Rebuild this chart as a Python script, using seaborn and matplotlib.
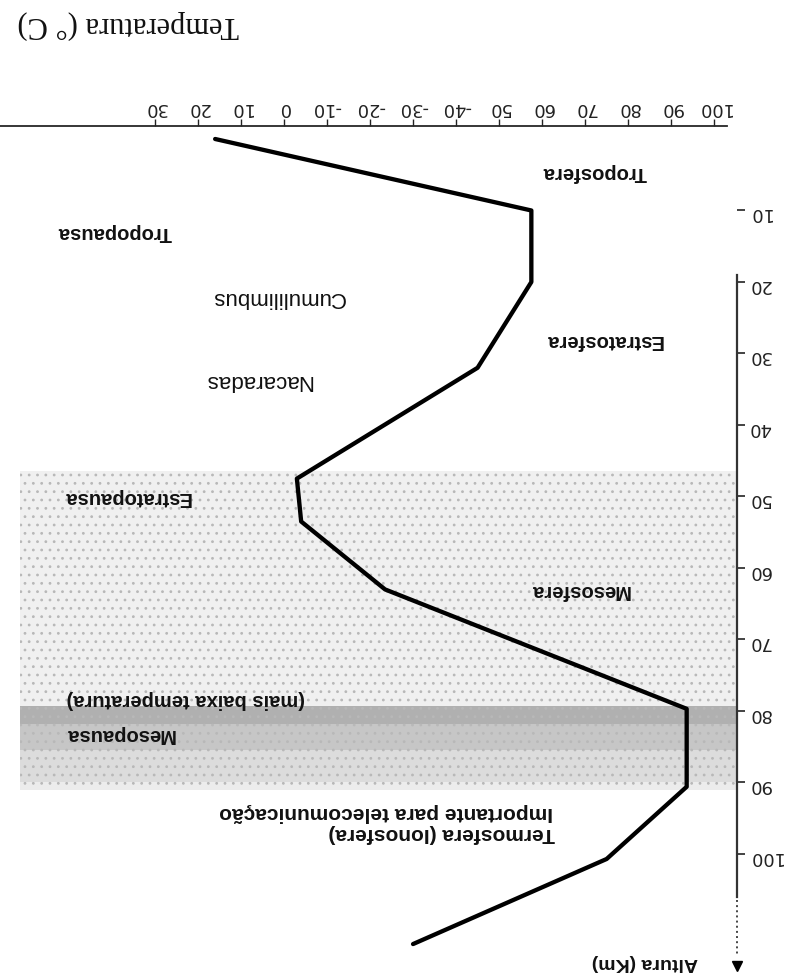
import matplotlib
matplotlib.use("Agg")
import matplotlib.pyplot as plt
import seaborn as sns
import pandas as pd

altitude_km = [0, 10, 20, 32, 47.5, 53.5, 63, 79.7, 90.6, 100.7, 112.6]
temperature_c = [16, -57.5, -57.5, -45, -3, -4, -23.5, -93.6, -93.6, -75, -30]

temp_ticks = [30, 20, 10, 0, -10, -20, -30, -40, -50, -60, -70, -80, -90, -100]
temp_tick_labels = ["30", "20", "10", "0", "-10", "-20", "-30", "-40",
                    "50", "60", "70", "80", "90", "100"]
alt_ticks = [10, 20, 30, 40, 50, 60, 70, 80, 90, 100]
alt_tick_labels = ["10", "20", "30", "40", "50", "60", "70", "80", "90", "100"]

bold_labels = ["Troposfera", "Estratosfera", "Tropopausa", "Estratopausa",
               "Mesosfera", "(mais baixa temperatura)", "Mesopausa"]
cloud_labels = ["Cumulilimbus", "Nacaradas"]
thermo_labels = ["Termosfera (Ionosfera)", "Importante para telecomunicação"]

df = pd.DataFrame({"Temperatura": temperature_c, "Altura": altitude_km})

sns.set_theme(style="ticks")
plt.rcParams["hatch.linewidth"] = 0.8

fig = plt.figure(figsize=(7.93, 9.79), dpi=100)
ax = fig.add_axes([0.0, 0.004, 0.9294, 0.8663])
ax.set_facecolor("white")

# shaded upper layers
ax.axhspan(79.3, 81.8, xmin=0.027, xmax=1, facecolor="#b0b0b0", lw=0, zorder=0)
ax.axhspan(81.8, 85.5, xmin=0.027, xmax=1, facecolor="#c6c6c6", lw=0, zorder=0)
ax.axhspan(85.5, 90.0, xmin=0.027, xmax=1, facecolor="#dcdcdc", lw=0, zorder=0)
ax.axhspan(46.5, 91, xmin=0.027, xmax=1, facecolor="none",
           hatch="..", edgecolor="#b8b8b8", lw=0, zorder=0.5)
ax.axhspan(46.5, 79.3, xmin=0.027, xmax=1, facecolor="#f0f0f0", lw=0,
           zorder=-0.5)
ax.axhspan(90.0, 91, xmin=0.027, xmax=1, facecolor="#ececec", lw=0,
           zorder=-0.5)

sns.lineplot(data=df, x="Temperatura", y="Altura", sort=False,
             estimator=None, color="black", lw=3.1, ax=ax, zorder=3)

ax.set_xlim(66.0, -105.3)
ax.set_ylim(116.8, -1.82)

ax.set_xticks(temp_ticks, temp_tick_labels)
ax.set_yticks(alt_ticks, alt_tick_labels)
ax.tick_params(axis="x", top=True, bottom=False, labeltop=True,
               labelbottom=False, direction="out", length=5, width=1,
               labelsize=13, labelrotation=180, pad=2, colors="#222222")
ax.tick_params(axis="y", right=True, left=False, labelright=True,
               labelleft=False, direction="out", length=6, width=1.2,
               labelsize=13, labelrotation=180, pad=2, colors="#222222")
ax.set_xlabel("")
ax.set_ylabel("")

for s in ["left", "bottom"]:
    ax.spines[s].set_visible(False)
ax.spines["top"].set_bounds(-103, 66)
ax.spines["top"].set_linewidth(1.3)
ax.spines["right"].set_bounds(19, 106)
ax.spines["right"].set_linewidth(1.6)
ax.spines["right"].set_color("#333333")

ax.plot([-105.3, -105.3], [106.5, 114], ls=":", color="#444444", lw=1.4,
        clip_on=False)
ax.plot([-105.3], [115.6], marker="v", ms=7, color="black", clip_on=False)

sans = ["Liberation Sans", "DejaVu Sans"]
bold_pos = [(-72.1, 4.6), (-74.4, 28.0), (39.3, 13.0), (36.5, 50.0),
            (-68.8, 63.0), (22.8, 78.3), (38.1, 83.2)]
for txt, (x, y) in zip(bold_labels, bold_pos):
    ax.text(x, y, txt, rotation=180, ha="center", va="center",
            fontsize=14.5, fontweight="bold", family=sans, color="#111111",
            zorder=4)

cloud_pos = [(1.4, 22.0), (6.0, 33.6)]
for txt, (x, y) in zip(cloud_labels, cloud_pos):
    ax.text(x, y, txt, rotation=180, ha="center", va="center",
            fontsize=16, family=sans, color="#111111", zorder=4)

thermo_pos = [(-63.0, 97.0), (-62.6, 94.0)]
for txt, (x, y) in zip(thermo_labels, thermo_pos):
    ax.text(x, y, txt, rotation=180, ha="right", va="center",
            fontsize=15, fontweight="bold", family=sans, color="#111111",
            zorder=4)

ax.text(-84, 115, "Altura (Km)", rotation=180, ha="center", va="center",
        fontsize=14, fontweight="bold", family=sans, color="#111111")

fig.text(128 / 793, 1 - 25 / 979, "Temperatura (° C)", rotation=180,
         ha="center", va="center", fontsize=22,
         family=["Liberation Serif", "DejaVu Serif"], color="#111111")

fig.savefig("out.png", dpi=100, facecolor="white")
